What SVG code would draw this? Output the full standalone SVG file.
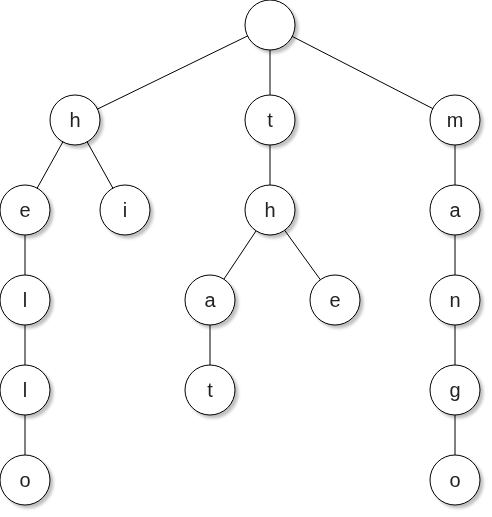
<svg xmlns="http://www.w3.org/2000/svg" width="492" height="517" viewBox="0 0 492 517">
<defs>
<filter id="sh" x="-30%" y="-30%" width="170%" height="170%">
<feGaussianBlur in="SourceAlpha" stdDeviation="1.5"/>
<feOffset dx="3" dy="3" result="b"/>
<feComponentTransfer><feFuncA type="linear" slope="0.25"/></feComponentTransfer>
<feMerge><feMergeNode/><feMergeNode in="SourceGraphic"/></feMerge>
</filter>
</defs>
<style>
.n circle{fill:#fff;stroke:#000;stroke-width:1}
.n text{font-family:"Liberation Sans",Arial,sans-serif;font-size:20px;fill:#222;text-anchor:middle}
#edges line{stroke:#000;stroke-width:1}
</style>
<rect width="492" height="517" fill="#fff"/>
<g id="edges">
<line x1="270" y1="25" x2="75" y2="120"/>
<line x1="270" y1="25" x2="270" y2="120"/>
<line x1="270" y1="25" x2="455" y2="120"/>
<line x1="75" y1="120" x2="25" y2="210"/>
<line x1="75" y1="120" x2="125" y2="210"/>
<line x1="25" y1="210" x2="25" y2="480"/>
<line x1="270" y1="120" x2="270" y2="210"/>
<line x1="270" y1="210" x2="210" y2="300"/>
<line x1="270" y1="210" x2="335" y2="300"/>
<line x1="210" y1="300" x2="210" y2="390"/>
<line x1="455" y1="120" x2="455" y2="480"/>
</g>
<g filter="url(#sh)">
<g id="root" class="n"><circle cx="270" cy="25" r="25"/></g>
<g id="n-h" class="n"><circle cx="75" cy="120" r="25"/><text x="75" y="127">h</text></g>
<g id="n-t" class="n"><circle cx="270" cy="120" r="25"/><text x="270" y="127">t</text></g>
<g id="n-m" class="n"><circle cx="455" cy="120" r="25"/><text x="455" y="127">m</text></g>
<g id="n-he" class="n"><circle cx="25" cy="210" r="25"/><text x="25" y="217">e</text></g>
<g id="n-hi" class="n"><circle cx="125" cy="210" r="25"/><text x="125" y="217">i</text></g>
<g id="n-th" class="n"><circle cx="270" cy="210" r="25"/><text x="270" y="217">h</text></g>
<g id="n-ma" class="n"><circle cx="455" cy="210" r="25"/><text x="455" y="217">a</text></g>
<g id="n-hel" class="n"><circle cx="25" cy="300" r="25"/><text x="25" y="307">l</text></g>
<g id="n-tha" class="n"><circle cx="210" cy="300" r="25"/><text x="210" y="307">a</text></g>
<g id="n-the" class="n"><circle cx="335" cy="300" r="25"/><text x="335" y="307">e</text></g>
<g id="n-man" class="n"><circle cx="455" cy="300" r="25"/><text x="455" y="307">n</text></g>
<g id="n-hell" class="n"><circle cx="25" cy="390" r="25"/><text x="25" y="397">l</text></g>
<g id="n-that" class="n"><circle cx="210" cy="390" r="25"/><text x="210" y="397">t</text></g>
<g id="n-mang" class="n"><circle cx="455" cy="390" r="25"/><text x="455" y="397">g</text></g>
<g id="n-hello" class="n"><circle cx="25" cy="480" r="25"/><text x="25" y="487">o</text></g>
<g id="n-mango" class="n"><circle cx="455" cy="480" r="25"/><text x="455" y="487">o</text></g>
</g>
</svg>
